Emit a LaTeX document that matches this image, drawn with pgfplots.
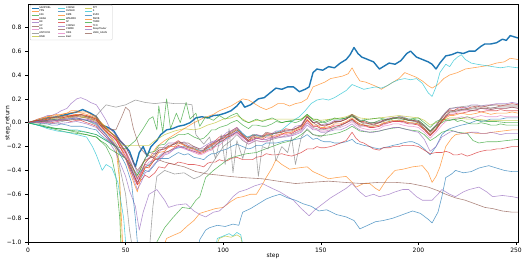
\documentclass[border=0pt]{standalone}
\usepackage{pgfplots}
\usepackage{pgfplotstable}
\usepackage{fontspec}
\setmainfont{DejaVu Sans}
\pgfplotsset{compat=1.18}
\definecolor{c0}{HTML}{1F77B4}
\definecolor{c1}{HTML}{FF7F0E}
\definecolor{c2}{HTML}{2CA02C}
\definecolor{c3}{HTML}{D62728}
\definecolor{c4}{HTML}{9467BD}
\definecolor{c5}{HTML}{8C564B}
\definecolor{c6}{HTML}{E377C2}
\definecolor{c7}{HTML}{7F7F7F}
\definecolor{c8}{HTML}{BCBD22}
\definecolor{c9}{HTML}{17BECF}
\pgfplotsset{ser/.style={line width=0.6pt, opacity=0.7, line join=round}}
\pgfplotstableread{
x s3 s4 s5 s6 s10 s13 s16 s21 s22 s23 s24 s25
0 0 0 0 0 0 0 0 0 0 0 0 0
2 0.01 0.01 0 0.01 0 0 0.01 0.01 -0.01 0.01 0 0.01
5 0.02 0.03 0 0.01 0 0.01 0 0.03 -0.01 0.02 0.01 0.02
7 0.01 0.04 0.02 0 -0.01 0.02 0 0.04 -0.02 0.02 0.02 0.01
10 0.03 0.06 0.02 0.01 -0.01 0 0.01 0.05 -0.03 0.03 0.02 0.02
12 0.03 0.06 0.03 0.02 -0.02 0 0.02 0.06 -0.04 0.04 0.01 0.04
15 0.02 0.08 0.03 0.02 -0.02 0.01 0.01 0.07 -0.05 0.04 0.02 0.04
17 0.04 0.1 0.03 0.03 -0.01 0.02 0.02 0.07 -0.05 0.04 0.03 0.05
20 0.05 0.12 0.04 0.04 -0.02 0.02 0.03 0.08 -0.06 0.05 0.03 0.06
22 0.06 0.16 0.05 0.04 -0.03 0.01 0.03 0.1 -0.07 0.06 0.04 0.05
25 0.07 0.2 0.05 0.05 -0.03 0.02 0.04 0.1 -0.08 0.06 0.04 0.06
27 0.05 0.21 0.06 0.05 -0.03 0.02 0.03 0.09 -0.09 0.07 0.03 0.07
30 0.04 0.19 0.05 0.04 -0.04 0 0.03 0.09 -0.1 0.06 0.03 0.05
32 0.03 0.17 0.04 0.03 -0.05 -0.01 0.02 0.07 -0.11 0.05 0.02 0.04
35 0.02 0.15 0.02 0.01 -0.06 -0.03 0 0.05 -0.12 0.03 0 0.04
37 -0.02 0.1 -0.01 -0.02 -0.1 -0.07 -0.04 0.01 -0.15 -0.02 -0.05 0
40 -0.08 0.02 -0.05 -0.07 -0.14 -0.12 -0.08 -0.04 -0.18 -0.07 -0.1 -0.05
42 -0.1 -0.05 -0.08 -0.1 -0.16 -0.15 -0.12 -0.08 -0.22 -0.1 -0.14 -0.08
45 -0.14 -0.1 -0.11 -0.13 -0.2 -0.2 -0.15 -0.13 -0.25 -0.14 -0.18 -0.12
47 -0.18 -0.14 -0.15 -0.18 -0.25 -0.24 -0.2 -0.2 -0.27 -0.2 -0.23 -0.17
50 -0.25 -0.2 -0.2 -0.23 -0.3 -0.3 -0.26 -0.3 -0.3 -0.28 -0.3 -0.24
53 -0.38 -0.3 -0.3 -0.34 -0.4 -0.42 -0.36 -0.45 -0.36 -0.4 -0.42 -0.35
56 -0.52 -0.42 -0.4 -0.47 -0.5 -0.52 -0.48 -0.58 -0.44 -0.5 -0.56 -0.47
58 -0.42 -0.36 -0.36 -0.4 -0.46 -0.48 -0.43 -0.45 -0.38 -0.44 -0.5 -0.41
60 -0.35 -0.3 -0.31 -0.34 -0.4 -0.44 -0.37 -0.37 -0.3 -0.38 -0.42 -0.34
62 -0.36 -0.25 -0.3 -0.29 -0.41 -0.46 -0.33 -0.38 -0.25 -0.37 -0.4 -0.3
65 -0.28 -0.26 -0.26 -0.29 -0.35 -0.42 -0.31 -0.3 -0.24 -0.31 -0.34 -0.28
67 -0.23 -0.25 -0.21 -0.28 -0.3 -0.37 -0.3 -0.25 -0.19 -0.3 -0.32 -0.23
70 -0.22 -0.2 -0.21 -0.24 -0.3 -0.38 -0.26 -0.24 -0.18 -0.25 -0.27 -0.22
72 -0.21 -0.17 -0.2 -0.2 -0.3 -0.34 -0.25 -0.2 -0.14 -0.24 -0.26 -0.19
75 -0.17 -0.17 -0.18 -0.2 -0.27 -0.35 -0.22 -0.2 -0.12 -0.21 -0.22 -0.18
77 -0.15 -0.18 -0.16 -0.21 -0.25 -0.33 -0.2 -0.17 -0.1 -0.19 -0.2 -0.16
80 -0.19 -0.16 -0.17 -0.2 -0.27 -0.34 -0.22 -0.19 -0.1 -0.21 -0.21 -0.18
82 -0.2 -0.19 -0.17 -0.21 -0.26 -0.35 -0.23 -0.21 -0.09 -0.22 -0.23 -0.2
85 -0.22 -0.2 -0.2 -0.23 -0.29 -0.35 -0.25 -0.22 -0.12 -0.24 -0.24 -0.21
88 -0.24 -0.22 -0.22 -0.25 -0.3 -0.36 -0.27 -0.25 -0.14 -0.26 -0.25 -0.23
90 -0.23 -0.2 -0.22 -0.24 -0.31 -0.37 -0.26 -0.24 -0.13 -0.25 -0.23 -0.23
92 -0.19 -0.18 -0.2 -0.22 -0.28 -0.34 -0.24 -0.21 -0.1 -0.23 -0.2 -0.21
94 -0.18 -0.16 -0.19 -0.19 -0.26 -0.33 -0.23 -0.18 -0.06 -0.22 -0.17 -0.2
96 -0.15 -0.15 -0.16 -0.18 -0.26 -0.33 -0.2 -0.17 -0.06 -0.19 -0.16 -0.17
98 -0.12 -0.14 -0.15 -0.16 -0.24 -0.31 -0.19 -0.14 -0.04 -0.16 -0.15 -0.14
100 -0.11 -0.11 -0.12 -0.14 -0.23 -0.32 -0.16 -0.13 -0.03 -0.15 -0.13 -0.13
102 -0.1 -0.08 -0.1 -0.13 -0.22 -0.32 -0.14 -0.12 -0.02 -0.12 -0.11 -0.1
104 -0.07 -0.07 -0.08 -0.1 -0.2 -0.3 -0.12 -0.09 0 -0.11 -0.1 -0.09
107 -0.04 -0.04 -0.05 -0.07 -0.18 -0.29 -0.09 -0.06 0.02 -0.08 -0.08 -0.06
110 -0.1 -0.09 -0.1 -0.12 -0.2 -0.31 -0.14 -0.11 -0.02 -0.12 -0.12 -0.11
113 -0.15 -0.13 -0.13 -0.16 -0.22 -0.31 -0.18 -0.15 -0.05 -0.16 -0.16 -0.15
115 -0.11 -0.12 -0.1 -0.15 -0.21 -0.31 -0.16 -0.12 -0.02 -0.14 -0.15 -0.13
117 -0.1 -0.1 -0.11 -0.13 -0.19 -0.29 -0.15 -0.12 -0.02 -0.13 -0.13 -0.12
120 -0.12 -0.11 -0.11 -0.14 -0.19 -0.28 -0.16 -0.13 -0.03 -0.14 -0.14 -0.12
122 -0.09 -0.11 -0.08 -0.14 -0.17 -0.26 -0.16 -0.1 -0.03 -0.12 -0.14 -0.1
125 -0.09 -0.09 -0.09 -0.12 -0.17 -0.27 -0.14 -0.11 -0.01 -0.12 -0.13 -0.1
127 -0.09 -0.07 -0.09 -0.1 -0.17 -0.27 -0.12 -0.11 0.01 -0.12 -0.12 -0.08
130 -0.07 -0.07 -0.08 -0.1 -0.16 -0.26 -0.12 -0.09 0 -0.1 -0.12 -0.08
132 -0.05 -0.07 -0.06 -0.1 -0.15 -0.27 -0.1 -0.09 0.01 -0.08 -0.12 -0.07
135 -0.06 -0.06 -0.06 -0.09 -0.15 -0.28 -0.11 -0.08 0.01 -0.09 -0.11 -0.07
137 -0.05 -0.03 -0.05 -0.07 -0.14 -0.27 -0.09 -0.06 0 -0.07 -0.1 -0.05
140 -0.02 -0.02 -0.03 -0.05 -0.13 -0.25 -0.07 -0.04 0.02 -0.05 -0.08 -0.03
143 0.06 0.05 0.05 0.02 -0.1 -0.22 0 0.03 0.07 0.02 -0.02 0.05
146 0 0 0 -0.03 -0.14 -0.22 -0.05 -0.02 0.03 -0.03 -0.06 0
148 0.01 0 -0.02 -0.03 -0.13 -0.2 -0.06 -0.02 0.03 -0.03 -0.06 0
150 -0.02 -0.02 -0.02 -0.05 -0.15 -0.21 -0.07 -0.04 0.01 -0.05 -0.08 -0.02
152 -0.03 -0.01 -0.02 -0.05 -0.16 -0.21 -0.07 -0.04 0 -0.05 -0.08 -0.02
155 -0.01 0 -0.01 -0.04 -0.16 -0.2 -0.06 -0.03 0.02 -0.04 -0.07 -0.01
157 0.01 0.02 0 -0.02 -0.17 -0.19 -0.05 -0.01 0.04 -0.03 -0.06 0.01
160 0.01 0.02 0.01 -0.02 -0.17 -0.17 -0.04 -0.01 0.03 -0.02 -0.06 0.01
163 0.03 0.04 0.03 0 -0.16 -0.15 -0.02 0.01 0.04 0 -0.04 0.03
166 0.06 0.07 0.06 0.03 -0.14 -0.08 0.01 0.04 0.05 0.03 -0.01 0.07
168 0.03 0.05 0.03 0 -0.17 -0.13 -0.02 0.01 0.04 0 -0.04 0.04
170 0.01 0.02 0.01 -0.02 -0.18 -0.16 -0.04 -0.01 0.01 -0.02 -0.06 0.01
172 0.01 0.02 -0.01 -0.03 -0.19 -0.17 -0.05 -0.02 0.02 -0.02 -0.07 0
175 -0.01 0 -0.01 -0.04 -0.2 -0.2 -0.06 -0.03 0 -0.04 -0.08 -0.01
177 -0.02 0 0 -0.04 -0.21 -0.22 -0.06 -0.03 0 -0.04 -0.08 -0.01
180 0 0.01 0 -0.03 -0.22 -0.23 -0.05 -0.02 0.02 -0.03 -0.07 0
182 0.02 0.02 0.01 -0.02 -0.21 -0.21 -0.03 0 0.03 -0.01 -0.06 0.02
185 0.03 0.04 0.03 0 -0.2 -0.21 -0.02 0.01 0.03 0 -0.05 0.03
187 0.04 0.04 0.04 0.01 -0.19 -0.2 -0.01 0.02 0.04 0.01 -0.04 0.04
190 0.04 0.05 0.04 0.01 -0.18 -0.2 -0.01 0.02 0.03 0.01 -0.04 0.04
192 0.04 0.05 0.03 0 -0.17 -0.19 -0.02 0.02 0.03 0.01 -0.05 0.04
195 0.02 0.03 0.02 -0.01 -0.16 -0.19 -0.03 0 0.02 -0.01 -0.06 0.02
197 0.02 0.02 0.02 -0.01 -0.16 -0.19 -0.03 0 0.03 -0.01 -0.07 0.02
200 0.01 0.02 0.01 -0.02 -0.18 -0.2 -0.04 -0.01 0.02 -0.02 -0.08 0
203 -0.03 -0.02 -0.03 -0.06 -0.22 -0.23 -0.08 -0.05 -0.02 -0.06 -0.14 -0.05
206 -0.08 -0.07 -0.08 -0.11 -0.27 -0.26 -0.13 -0.1 -0.07 -0.11 -0.24 -0.1
209 -0.03 -0.02 -0.03 -0.06 -0.2 -0.25 -0.08 -0.05 -0.03 -0.06 -0.2 -0.05
212 0.04 0.05 0.04 0.01 -0.1 -0.25 -0.02 0.01 0 0.01 -0.12 0.02
214 0.08 0.09 0.08 0.05 -0.07 -0.24 0.01 0.04 0.02 0.05 -0.1 0.06
216 0.11 0.12 0.1 0.08 -0.05 -0.25 0.03 0.06 0.02 0.07 -0.08 0.09
218 0.1 0.12 0.1 0.08 -0.04 -0.27 0.03 0.06 0.03 0.07 -0.07 0.09
220 0.12 0.13 0.11 0.09 -0.03 -0.27 0.04 0.07 0.01 0.08 -0.08 0.1
222 0.13 0.12 0.11 0.1 -0.02 -0.26 0.05 0.08 0.02 0.08 -0.09 0.11
225 0.12 0.13 0.12 0.1 -0.01 -0.28 0.04 0.07 0 0.09 -0.09 0.11
227 0.13 0.15 0.12 0.1 0 -0.27 0.04 0.07 -0.01 0.1 -0.08 0.1
230 0.14 0.15 0.13 0.11 0.02 -0.25 0.05 0.08 -0.01 0.1 -0.08 0.11
232 0.13 0.14 0.13 0.12 0.01 -0.24 0.06 0.09 0 0.09 -0.09 0.12
235 0.14 0.15 0.13 0.11 0.02 -0.23 0.05 0.08 -0.01 0.1 -0.09 0.12
237 0.15 0.15 0.12 0.11 0.03 -0.23 0.05 0.07 -0.02 0.1 -0.08 0.11
240 0.15 0.16 0.13 0.12 0.03 -0.22 0.05 0.08 -0.02 0.1 -0.09 0.12
242 0.14 0.16 0.14 0.12 0.03 -0.22 0.06 0.08 -0.01 0.11 -0.1 0.12
245 0.15 0.16 0.14 0.12 0.04 -0.21 0.05 0.08 -0.02 0.1 -0.09 0.12
248 0.16 0.17 0.14 0.13 0.04 -0.2 0.05 0.09 -0.02 0.1 -0.09 0.13
251 0.15 0.16 0.14 0.12 0.04 -0.2 0.05 0.08 -0.02 0.1 -0.09 0.12
}\cluster
\begin{document}
\begin{tikzpicture}
\useasboundingbox (-28pt,-20pt) rectangle (495pt,242pt);
\begin{axis}[
  at={(0,0)}, anchor=south west, scale only axis,
  width=490pt, height=238pt,
  xmin=0, xmax=251, ymin=-1, ymax=0.995,
  xtick={0,50,100,150,200,250},
  ytick={-1,-0.8,-0.6,-0.4,-0.2,0,0.2,0.4,0.6,0.8},
  yticklabels={−1.0,−0.8,−0.6,−0.4,−0.2,0.0,0.2,0.4,0.6,0.8},
  xticklabels={0,50,100,150,200,250},
  tick pos=left, tick align=outside, major tick length=3pt,
  every tick/.style={black, line width=0.6pt},
  axis line style={line width=0.6pt},
  tick label style={font=\fontsize{6}{7}\selectfont},
  label style={font=\fontsize{6}{7}\selectfont},
  xlabel={step}, ylabel={step\_return},
  xlabel style={at={(axis description cs:0.5,-0.06)}, anchor=center},
  ylabel style={at={(axis description cs:-0.041,0.5)}, anchor=center},
  no markers, clip=true,
  legend columns=9, transpose legend,
  legend cell align=left,
  legend style={at={(0.004,0.996)}, anchor=north west,
    font=\fontsize{2.4}{2.8}\selectfont, draw=black!20, rounded corners=0.8pt,
    inner sep=1pt, row sep=-0.6pt,
    nodes={inner sep=0.45pt, text width=18pt},
    /tikz/every even column/.append style={column sep=0pt}},
  legend image code/.code={\draw[#1, line width=0.8pt] (0pt,0pt) -- (7pt,0pt);},
]
% 0 thick blue
\addplot[c0, line width=1.4pt, line join=round] coordinates {(0,0) (5,0.02) (10,0.04) (15,0.05) (20,0.07) (25,0.09) (28,0.11) (32,0.08) (35,0.05) (38,-0.02) (41,-0.04) (44,-0.07) (47,-0.15) (50,-0.2) (52,-0.24) (54,-0.33) (55,-0.37) (57,-0.25) (59,-0.2) (61,-0.28) (63,-0.2) (66,-0.15) (68,-0.1) (71,-0.06) (74,-0.05) (77,-0.03) (80,-0.02) (83,0.0) (86,0.04) (89,0.05) (92,0.04) (95,0.06) (98,0.065) (101,0.08) (104,0.1) (107,0.14) (109,0.18) (111,0.13) (114,0.15) (118,0.2) (121,0.21) (124,0.25) (127,0.29) (130,0.28) (133,0.3) (136,0.3) (139,0.26) (142,0.28) (144,0.3) (146,0.42) (148,0.45) (151,0.44) (154,0.47) (157,0.46) (160,0.5) (163,0.53) (165,0.57) (167,0.63) (169,0.58) (171,0.55) (174,0.53) (177,0.51) (180,0.45) (182,0.47) (185,0.5) (188,0.49) (191,0.52) (194,0.58) (196,0.6) (199,0.55) (202,0.53) (205,0.51) (207,0.49) (209,0.45) (211,0.5) (214,0.56) (217,0.57) (220,0.59) (223,0.58) (226,0.6) (229,0.6) (232,0.64) (234,0.66) (237,0.66) (240,0.67) (243,0.7) (245,0.69) (247,0.73) (249,0.72) (251,0.71)};
% 1 orange upper
\addplot[ser, c1] coordinates {(0,0) (5,0.02) (10,0.05) (15,0.06) (20,0.08) (25,0.09) (30,0.07) (35,0.04) (40,-0.05) (45,-0.12) (50,-0.25) (53,-0.38) (56,-0.45) (59,-0.33) (62,-0.3) (66,-0.2) (70,-0.15) (75,-0.1) (80,-0.05) (85,0.0) (90,0.04) (95,0.07) (98,0.1) (101,0.12) (104,0.14) (107,0.17) (110,0.2) (113,0.19) (116,0.16) (119,0.13) (122,0.11) (125,0.13) (128,0.16) (131,0.16) (134,0.14) (137,0.16) (140,0.17) (143,0.2) (146,0.3) (149,0.32) (152,0.34) (155,0.37) (158,0.38) (161,0.39) (164,0.41) (166,0.46) (168,0.4) (170,0.35) (173,0.34) (176,0.32) (179,0.3) (181,0.28) (184,0.31) (187,0.34) (190,0.37) (193,0.42) (196,0.4) (199,0.38) (202,0.35) (205,0.31) (207,0.29) (210,0.32) (213,0.37) (216,0.4) (220,0.42) (224,0.45) (228,0.46) (232,0.47) (236,0.48) (240,0.5) (244,0.51) (247,0.54) (251,0.53)};
% 2 green diving
\addplot[ser, c2] coordinates {(0,0) (5,-0.02) (10,-0.04) (15,-0.06) (20,-0.08) (25,-0.09) (30,-0.1) (35,-0.12) (40,-0.2) (43,-0.3) (45,-0.45) (47,-0.8) (48,-1.2) (55,-1.3) (62,-1.2) (66,-1.0) (70,-0.88) (74,-0.8) (79,-0.71) (83,-0.72) (86,-0.65) (88,-0.62) (91,-0.46) (95,-0.4) (99,-0.35) (103,-0.3) (107,-0.28) (112,-0.26) (117,-0.25) (120,-0.23) (125,-0.2) (130,-0.17) (135,-0.15) (140,-0.1) (143,-0.06) (146,-0.1) (150,-0.11) (155,-0.1) (160,-0.08) (163,-0.06) (166,-0.03) (170,-0.07) (175,-0.08) (180,-0.07) (185,-0.05) (190,-0.04) (195,-0.06) (200,-0.07) (203,-0.1) (206,-0.15) (209,-0.12) (212,-0.08) (216,-0.06) (220,-0.08) (225,-0.09) (228,-0.15) (231,-0.17) (235,-0.16) (240,-0.16) (245,-0.15) (251,-0.14)};
% 3 red
\addplot[ser, c3] table[x=x, y=s3] {\cluster};
% 4 purple
\addplot[ser, c4] table[x=x, y=s4] {\cluster};
% 5 brown
\addplot[ser, c5] table[x=x, y=s5] {\cluster};
% 6 pink
\addplot[ser, c6] table[x=x, y=s6] {\cluster};
% 7 gray B
\addplot[ser, c7] coordinates {(0,0) (5,0.0) (10,-0.01) (15,0.0) (20,0.02) (25,0.03) (30,0.02) (35,-0.02) (40,-0.1) (45,-0.22) (48,-0.45) (50,-0.6) (52,-0.9) (54,-1.1) (58,-1.2) (62,-1.1) (64,-0.7) (66,-0.45) (70,-0.4) (75,-0.43) (80,-0.42) (85,-0.47) (88,-0.45) (92,-0.4) (96,-0.3) (100,-0.2) (104,-0.15) (107,-0.1) (110,-0.15) (113,-0.18) (117,-0.15) (120,-0.16) (125,-0.14) (130,-0.12) (135,-0.1) (140,-0.06) (143,0.0) (146,-0.04) (150,-0.06) (155,-0.05) (160,-0.03) (163,0.0) (166,0.03) (170,-0.01) (175,-0.03) (180,-0.02) (185,0.01) (190,0.02) (195,0.0) (200,-0.01) (203,-0.05) (206,-0.1) (209,-0.05) (212,0.02) (216,0.09) (220,0.1) (225,0.11) (230,0.12) (235,0.12) (240,0.13) (245,0.13) (251,0.13)};
% 8 olive flat
\addplot[ser, c8] coordinates {(0,0) (5,0.01) (10,0.03) (15,0.04) (20,0.05) (25,0.06) (30,0.05) (35,0.03) (40,-0.04) (45,-0.12) (48,-0.19) (52,-0.19) (56,-0.19) (60,-0.19) (62,-0.19) (65,-0.15) (70,-0.1) (75,-0.07) (80,-0.05) (85,-0.06) (88,-0.05) (92,-0.02) (96,0.0) (100,0.03) (104,0.04) (107,0.06) (110,0.03) (113,0.0) (117,0.02) (120,0.02) (125,0.03) (130,0.03) (135,0.03) (140,0.03) (143,0.06) (146,0.03) (150,0.02) (155,0.03) (160,0.04) (163,0.05) (166,0.07) (170,0.04) (175,0.03) (180,0.04) (185,0.05) (190,0.06) (195,0.05) (200,0.04) (203,0.02) (206,-0.02) (209,0.0) (212,0.02) (216,0.04) (220,0.04) (225,0.03) (230,0.03) (235,0.02) (240,0.02) (245,0.02) (251,0.02)};
% 9 cyan upper
\addplot[ser, c9] coordinates {(0,0) (5,-0.02) (10,-0.04) (15,-0.05) (20,-0.06) (25,-0.06) (30,-0.08) (35,-0.1) (40,-0.15) (45,-0.2) (50,-0.3) (55,-0.45) (58,-0.4) (62,-0.35) (66,-0.3) (70,-0.25) (75,-0.22) (80,-0.2) (85,-0.22) (90,-0.24) (95,-0.2) (100,-0.15) (105,-0.1) (108,-0.06) (112,-0.12) (116,-0.1) (120,-0.12) (125,-0.1) (130,-0.06) (133,-0.02) (136,0.02) (139,0.05) (142,0.1) (145,0.16) (148,0.19) (151,0.2) (154,0.19) (157,0.21) (160,0.24) (163,0.27) (166,0.32) (169,0.3) (172,0.28) (175,0.29) (178,0.3) (181,0.29) (184,0.31) (187,0.34) (190,0.36) (193,0.37) (196,0.36) (199,0.37) (202,0.33) (205,0.25) (207,0.22) (209,0.3) (211,0.42) (214,0.49) (216,0.47) (218,0.52) (220,0.55) (222,0.57) (224,0.53) (227,0.5) (230,0.49) (234,0.48) (238,0.47) (242,0.46) (246,0.47) (251,0.46)};
% 10 blue mid
\addplot[ser, c0] table[x=x, y=s10] {\cluster};
% 11 orange lower
\addplot[ser, c1] coordinates {(0,0) (5,0.02) (10,0.04) (15,0.05) (20,0.06) (25,0.07) (30,0.06) (35,0.03) (40,-0.06) (45,-0.2) (47,-0.5) (49,-1.2) (60,-1.3) (68,-1.1) (71,-0.97) (75,-0.94) (78,-0.92) (82,-0.86) (85,-0.82) (88,-0.76) (92,-0.74) (96,-0.72) (100,-0.71) (104,-0.66) (107,-0.63) (110,-0.62) (114,-0.6) (117,-0.6) (120,-0.52) (122,-0.46) (125,-0.38) (127,-0.31) (130,-0.35) (134,-0.39) (138,-0.38) (143,-0.37) (146,-0.41) (150,-0.44) (154,-0.47) (158,-0.46) (163,-0.45) (166,-0.5) (168,-0.54) (172,-0.51) (175,-0.51) (178,-0.55) (180,-0.57) (182,-0.52) (184,-0.47) (188,-0.4) (192,-0.39) (197,-0.37) (202,-0.36) (205,-0.42) (207,-0.5) (209,-0.45) (211,-0.37) (214,-0.2) (217,-0.13) (219,-0.1) (223,-0.09) (226,-0.08) (230,-0.09) (234,-0.09) (238,-0.08) (243,-0.07) (248,-0.06) (251,-0.06)};
% 12 green jagged
\addplot[ser, c2] coordinates {(0,0) (5,-0.02) (10,-0.04) (15,-0.05) (20,-0.06) (25,-0.07) (30,-0.08) (35,-0.1) (40,-0.15) (45,-0.2) (50,-0.22) (55,-0.15) (59,-0.05) (62,0.03) (64,0.05) (66,-0.06) (67,0.14) (69,-0.08) (71,0.2) (73,-0.05) (76,0.08) (78,0.0) (81,0.17) (83,0.03) (86,0.08) (88,-0.03) (91,0.05) (95,0.02) (98,0.06) (101,0.03) (104,0.06) (107,0.08) (110,0.02) (113,0.0) (117,0.03) (120,0.01) (125,0.04) (130,0.0) (135,0.02) (140,0.03) (143,0.07) (146,0.02) (150,0.0) (155,0.03) (160,0.03) (163,0.04) (166,0.06) (170,0.02) (175,0.03) (180,0.04) (185,0.02) (190,0.05) (195,0.03) (200,0.04) (203,0.0) (206,-0.04) (209,0.01) (212,0.03) (216,0.02) (220,0.03) (225,0.05) (230,0.02) (235,0.01) (240,0.01) (245,0.0) (251,0.0)};
% 13 red lower
\addplot[ser, c3] table[x=x, y=s13] {\cluster};
% 14 purple lower
\addplot[ser, c4] coordinates {(0,0) (5,0.01) (10,0.0) (15,-0.01) (20,0.0) (25,0.01) (30,-0.01) (35,-0.04) (40,-0.12) (45,-0.25) (50,-0.45) (52,-0.57) (55,-0.7) (57,-0.9) (59,-0.75) (62,-0.6) (66,-0.56) (70,-0.65) (72,-0.71) (76,-0.69) (81,-0.68) (85,-0.74) (88,-0.77) (91,-0.79) (95,-0.75) (98,-0.74) (102,-0.68) (105,-0.62) (108,-0.58) (112,-0.56) (116,-0.53) (120,-0.51) (125,-0.55) (129,-0.58) (133,-0.62) (136,-0.65) (140,-0.72) (144,-0.78) (147,-0.73) (151,-0.68) (155,-0.63) (160,-0.58) (163,-0.55) (166,-0.51) (170,-0.58) (173,-0.62) (177,-0.6) (180,-0.62) (185,-0.6) (188,-0.58) (192,-0.56) (195,-0.56) (199,-0.62) (202,-0.65) (207,-0.65) (210,-0.6) (212,-0.56) (216,-0.6) (219,-0.62) (223,-0.58) (226,-0.56) (231,-0.54) (235,-0.58) (238,-0.62) (243,-0.61) (248,-0.62) (251,-0.63)};
% 15 brown lower
\addplot[ser, c5] coordinates {(0,0) (5,0.0) (10,0.01) (15,0.02) (20,0.03) (25,0.03) (30,0.02) (35,0.0) (40,-0.05) (45,-0.06) (48,0.05) (50,0.13) (52,0.1) (54,-0.05) (57,-0.2) (60,-0.26) (65,-0.3) (70,-0.33) (75,-0.35) (80,-0.37) (86,-0.41) (92,-0.43) (98,-0.44) (103,-0.45) (110,-0.46) (120,-0.47) (128,-0.49) (137,-0.51) (145,-0.5) (154,-0.49) (162,-0.5) (171,-0.51) (180,-0.5) (188,-0.5) (196,-0.51) (205,-0.54) (210,-0.57) (214,-0.6) (219,-0.63) (224,-0.65) (229,-0.68) (234,-0.71) (238,-0.72) (243,-0.74) (248,-0.75) (251,-0.75)};
% 16 pink
\addplot[ser, c6] table[x=x, y=s16] {\cluster};
% 17 gray A
\addplot[ser, c7] coordinates {(0,0) (5,0.01) (10,0.01) (15,0.02) (20,0.02) (25,0.03) (30,0.05) (35,0.06) (40,0.15) (45,0.13) (50,0.15) (55,0.19) (60,0.17) (65,0.16) (70,0.17) (75,0.16) (80,0.16) (84,0.15) (86,-0.1) (90,-0.18) (93,-0.12) (96,-0.3) (99,-0.1) (101,-0.35) (103,-0.05) (105,-0.42) (107,-0.15) (110,-0.3) (113,-0.12) (116,-0.1) (118,-0.45) (120,-0.2) (123,-0.22) (125,-0.1) (127,-0.32) (130,-0.2) (133,-0.25) (135,-0.12) (137,-0.35) (140,-0.12) (143,-0.05) (146,-0.1) (150,-0.12) (155,-0.06) (160,-0.02) (163,0.0) (166,0.02) (170,-0.03) (175,-0.02) (180,0.0) (185,0.03) (190,0.04) (195,0.02) (200,0.0) (203,-0.03) (206,-0.07) (209,-0.02) (212,0.05) (216,0.12) (220,0.13) (225,0.14) (230,0.14) (235,0.14) (240,0.15) (245,0.15) (251,0.15)};
% 18 olive diving
\addplot[ser, c8] coordinates {(0,0) (5,0.01) (10,0.02) (15,0.03) (20,0.04) (25,0.05) (30,0.04) (35,0.01) (40,-0.08) (44,-0.15) (46,-0.2) (47,-0.5) (48,-1.2) (60,-1.4) (90,-1.3) (96,-1.05) (98,-0.97) (101,-0.95) (104,-0.96) (107,-0.94) (109,-0.96) (111,-1.1) (115,-1.4) (251,-1.4)};
% 19 cyan diving
\addplot[ser, c9] coordinates {(0,0) (5,-0.02) (10,-0.05) (15,-0.07) (20,-0.08) (25,-0.1) (30,-0.12) (33,-0.2) (35,-0.27) (38,-0.4) (40,-0.35) (43,-0.38) (46,-0.5) (49,-0.8) (51,-1.2) (70,-1.4) (94,-1.2) (97,-0.97) (100,-0.95) (103,-0.93) (105,-0.95) (107,-0.92) (109,-0.94) (111,-1.1) (114,-1.4) (251,-1.4)};
% 20 blue lower
\addplot[ser, c0] coordinates {(0,0) (5,0.01) (10,0.02) (15,0.03) (20,0.03) (25,0.04) (30,0.02) (35,-0.01) (40,-0.1) (45,-0.2) (50,-0.35) (53,-0.5) (55,-0.8) (57,-1.2) (70,-1.4) (85,-1.2) (88,-0.98) (91,-0.9) (93,-0.88) (97,-0.86) (101,-0.87) (105,-0.85) (108,-0.86) (109,-0.8) (110,-0.75) (114,-0.72) (118,-0.68) (122,-0.64) (125,-0.62) (129,-0.6) (133,-0.63) (137,-0.65) (141,-0.68) (145,-0.7) (149,-0.74) (153,-0.73) (158,-0.77) (163,-0.79) (167,-0.82) (170,-0.89) (174,-0.86) (178,-0.83) (182,-0.82) (187,-0.8) (192,-0.77) (197,-0.74) (201,-0.76) (205,-0.81) (207,-0.84) (210,-0.75) (212,-0.62) (214,-0.46) (217,-0.43) (219,-0.4) (223,-0.42) (227,-0.41) (231,-0.38) (236,-0.36) (240,-0.38) (244,-0.4) (248,-0.41) (251,-0.41)};
% 21-25
\addplot[ser, c1] table[x=x, y=s21] {\cluster};
\addplot[ser, c2] table[x=x, y=s22] {\cluster};
\addplot[ser, c3] table[x=x, y=s23] {\cluster};
\addplot[ser, c4] table[x=x, y=s24] {\cluster};
\addplot[ser, c5] table[x=x, y=s25] {\cluster};
\legend{SAMPDRL,PPN,EIIE,UBAH,BK,UP,EG,ANTICOR,BNN,CORNK,OLMAR,RMR,WMAMR,SP,CORNU,CWMR,ONS,Best,PPT,S,SSPO,PAMR,TRAM,TCO,DeepTrader,LSRE\_CAAN}
\end{axis}
\end{tikzpicture}
\end{document}
